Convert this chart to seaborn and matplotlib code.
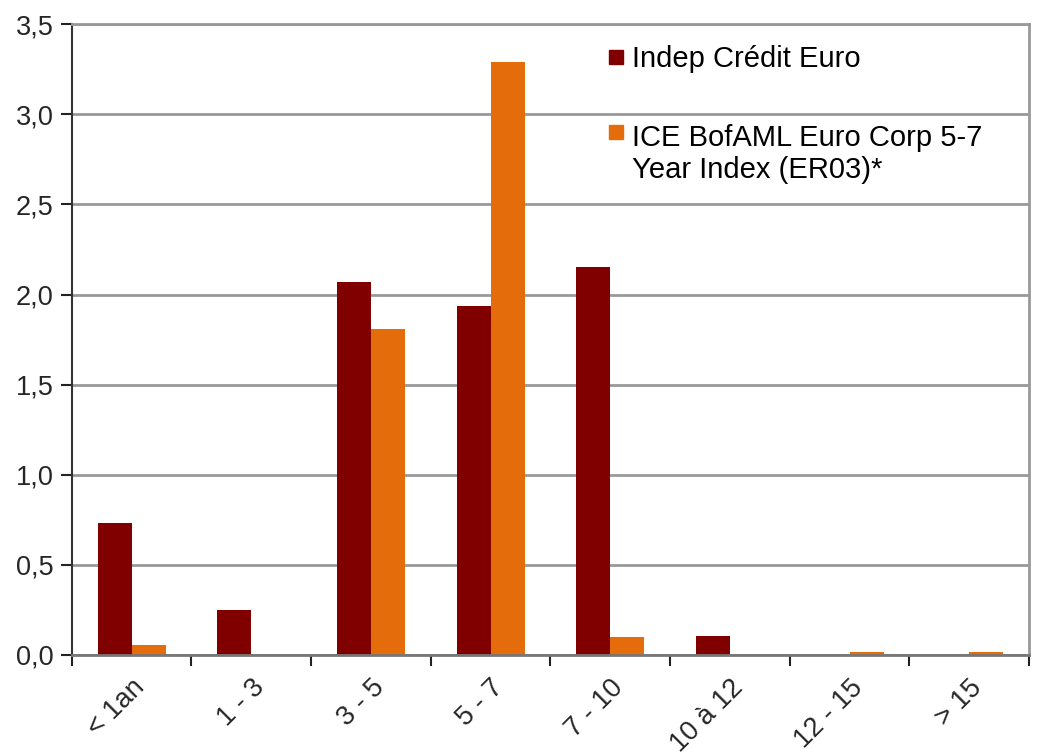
import pandas as pd
import numpy as np
import matplotlib
matplotlib.use('Agg')
import matplotlib.pyplot as plt
import matplotlib.ticker as ticker
from matplotlib.patches import Rectangle
import seaborn as sns

categories = ['< 1an', '1 - 3', '3 - 5', '5 - 7', '7 - 10', '10 à 12', '12 - 15', '> 15']
fund_name = 'Indep Crédit Euro'
index_name = 'ICE BofAML Euro Corp 5-7\nYear Index (ER03)*'
fund_values = [0.73, 0.25, 2.07, 1.935, 2.15, 0.105, 0.0, 0.0]
index_values = [0.055, 0.0, 1.81, 3.29, 0.10, 0.0, 0.015, 0.015]
colors = ['#800000', '#E46C0A']

df = pd.DataFrame({
    'Maturité': categories * 2,
    'Valeur': fund_values + index_values,
    'Série': [fund_name] * len(categories) + [index_name] * len(categories),
})

sns.set_theme(style='white')
plt.rcParams['font.family'] = ['Liberation Sans', 'DejaVu Sans']

fig = plt.figure(figsize=(10.41, 7.54), dpi=100)
ax = fig.add_axes([0.069, 0.1313, 0.9195, 0.8367])

sns.barplot(data=df, x='Maturité', y='Valeur', hue='Série', order=categories,
            palette=colors, width=0.57, saturation=1,
            edgecolor='none', ax=ax, legend=False)

ax.set_ylim(0, 3.5)
ax.set_xlim(-0.5, len(categories) - 0.5)
ax.yaxis.set_major_locator(ticker.MultipleLocator(0.5))
ax.yaxis.set_major_formatter(ticker.FuncFormatter(lambda v, p: f'{v:.1f}'.replace('.', ',')))
ax.grid(axis='y', color='#999999', linewidth=2)
ax.set_axisbelow(True)

ax.set_xlabel('')
ax.set_ylabel('')
ax.set_xticks(range(len(categories)))
ax.set_xticklabels(categories, rotation=45, ha='right', rotation_mode='anchor')
ax.xaxis.set_minor_locator(ticker.FixedLocator(np.arange(-0.5, len(categories), 1)))
ax.tick_params(axis='x', which='major', length=0, labelsize=19.5, pad=14)
ax.tick_params(axis='x', which='minor', length=8, width=1.5, color='#222222', bottom=True)
ax.tick_params(axis='y', length=8, width=1.5, color='#222222', labelsize=19.5, left=True, pad=5)

for side in ['top', 'right', 'bottom']:
    ax.spines[side].set_color('#999999')
    ax.spines[side].set_linewidth(2)
ax.spines['left'].set_color('#333333')
ax.spines['left'].set_linewidth(1.5)
ax.spines['bottom'].set_color('#777777')

# legend drawn by hand: square markers aligned with the first text line
legend_rows = [(fund_name, 0.948, 0.945, 'center'), (index_name, 0.829, 0.842, 'top')]
for (label, marker_y, text_y, va), col in zip(legend_rows, colors):
    ax.add_patch(Rectangle((0.561, marker_y - 0.011), 0.0146, 0.022, color=col,
                           transform=ax.transAxes, clip_on=False))
    ax.text(0.585, text_y, label, transform=ax.transAxes,
            fontsize=21, va=va, ha='left', color='black', linespacing=1.2)

fig.savefig('out.png', dpi=100)
